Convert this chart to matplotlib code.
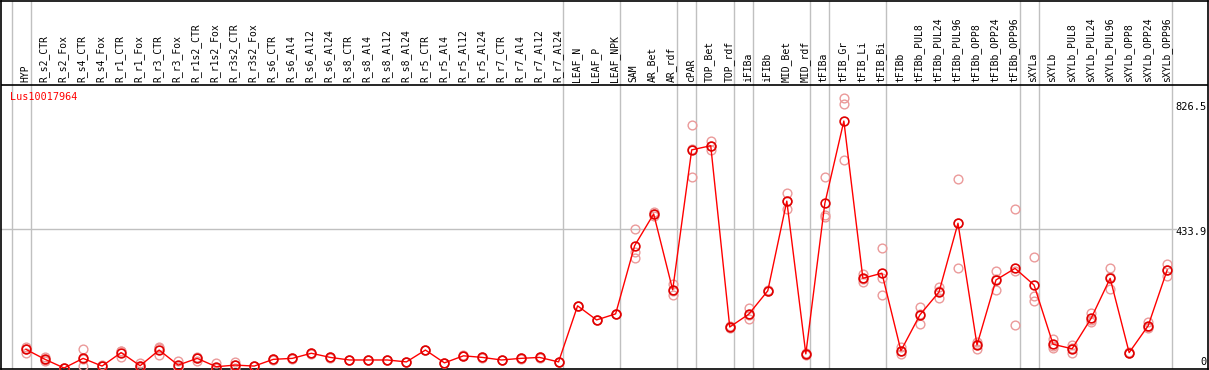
# -*- coding: utf-8 -*-
"""Expression profile of Lus10017964 across tissues / treatments."""
import matplotlib

matplotlib.use("Agg")
import matplotlib.pyplot as plt

samples = [
    "HYP", "R_s2_CTR", "R_s2_Fox", "R_s4_CTR", "R_s4_Fox", "R_r1_CTR", "R_r1_Fox",
    "R_r3_CTR", "R_r3_Fox", "R_r1s2_CTR", "R_r1s2_Fox", "R_r3s2_CTR", "R_r3s2_Fox",
    "R_s6_CTR", "R_s6_Al4", "R_s6_Al12", "R_s6_Al24", "R_s8_CTR", "R_s8_Al4",
    "R_s8_Al12", "R_s8_Al24", "R_r5_CTR", "R_r5_Al4", "R_r5_Al12", "R_r5_Al24",
    "R_r7_CTR", "R_r7_Al4", "R_r7_Al12", "R_r7_Al24", "LEAF_N", "LEAF_P", "LEAF_NPK",
    "SAM", "AR_Bet", "AR_rdf", "cPAR", "TOP_Bet", "TOP_rdf", "iFIBa", "iFIBb",
    "MID_Bet", "MID_rdf", "tFIBa", "tFIB_Gr", "tFIB_Li", "tFIB_Bi", "tFIBb",
    "tFIBb_PUL8", "tFIBb_PUL24", "tFIBb_PUL96", "tFIBb_OPP8", "tFIBb_OPP24",
    "tFIBb_OPP96", "sXYLa", "sXYLb", "sXYLb_PUL8", "sXYLb_PUL24", "sXYLb_PUL96",
    "sXYLb_OPP8", "sXYLb_OPP24", "sXYLb_OPP96",
]

mean_expr = [
    58, 27, 0, 30, 6, 48, 7, 56, 9, 30, 4, 9, 6,
    27, 30, 46, 33, 25, 25, 25, 19, 56, 16, 38, 33, 25, 30, 33, 19,
    194, 150, 169,
    382, 481, 244, 681, 694, 128, 168, 241, 521, 44, 514, 771, 280, 296,
    54, 166, 237, 452, 72, 275, 311,
    259, 74, 60, 155, 280, 48, 132, 306,
]

replicates = [
    [66, 48, 60], [33, 25, 23], [0, 0, 0], [58, 6, 28], [8, 5, 6], [54, 35, 52],
    [15, 5, 2], [66, 41, 62], [23, 3, 3], [35, 23, 32], [15, 0, 0], [20, 0, 8],
    [7, 5, 6], [28, 26, 27], [31, 29, 30], [47, 45, 46], [34, 32, 33], [26, 24, 25],
    [26, 24, 25], [26, 24, 25], [20, 18, 19], [57, 55, 56], [17, 15, 16], [39, 37, 38],
    [34, 32, 33], [26, 24, 25], [31, 29, 30], [34, 32, 33], [20, 18, 19],
    [195, 193, 194], [151, 149, 150], [170, 168, 169],
    [434, 361, 343], [488, 481, 474], [262, 228, 240], [759, 597, 685], [709, 681, 692],
    [131, 125, 128], [186, 152, 165], [244, 239, 241], [547, 496, 521], [47, 40, 44],
    [595, 478, 470], [842, 823, 649], [293, 269, 278], [374, 282, 228],
    [65, 44, 53], [190, 136, 170], [254, 218, 240], [590, 311, 454], [82, 58, 75],
    [303, 244, 277], [496, 134, 303],
    [346, 225, 209], [90, 63, 69], [72, 46, 63], [171, 145, 150], [311, 246, 283],
    [50, 46, 48], [145, 124, 127], [324, 287, 307],
]

group_breaks = [-1, 0, 28, 31, 34, 35, 37, 38, 41, 42, 45, 52, 53, 60]
scale_ticks = [0, 433.9, 826.5]
gene = "Lus10017964"

MONO = "DejaVu Sans Mono"
GRID = "#c0c0c0"

fig = plt.figure(figsize=(12.09, 3.70), dpi=100)
ax = fig.add_axes([0.5 / 1209, 1.5 / 370, 1207.5 / 1209, 368 / 370])
ax.set_xlim(-1.341, 62.145)
ax.set_ylim(-1.6, 1147.4)
ax.set_xticks([])
ax.set_yticks([])
for sp in ax.spines.values():
    sp.set_color("black")
    sp.set_linewidth(1.2)

label_base = 883.5  # line under the sample names

# group separators
for b in group_breaks:
    ax.axvline(b + 0.24, color=GRID, lw=1, zorder=1)
ax.axhline(433.9, xmin=0, xmax=1176 / 1208, color=GRID, lw=1, zorder=1)
ax.axhline(label_base, color="black", lw=1.2, zorder=2)

# sample names
for i, name in enumerate(samples):
    ax.text(i - 0.05, label_base + 10, name, rotation=90, ha="center", va="bottom",
            fontsize=7, family=MONO, color="black")

# replicates
xs = list(range(len(samples)))
for i, reps in enumerate(replicates):
    ax.plot([i] * len(reps), reps, linestyle="none", marker="o", ms=6.3,
            mfc="none", mec="#eb9a9a", mew=1.0, zorder=3)

# mean line
ax.plot(xs, mean_expr, color="#ff0000", lw=1.0, zorder=4)
ax.plot(xs, mean_expr, linestyle="none", marker="o", ms=6.3, mfc="none",
        mec="#e00000", mew=1.2, zorder=5)

# right-hand scale
offsets = {0: 4.3, 433.9: -2.0, 826.5: -2.5}
for t in scale_ticks:
    txt = "0" if t == 0 else f"{t:.1f}"
    ax.annotate(txt, xy=(1.0, t), xycoords=("axes fraction", "data"),
                xytext=(-1.0, offsets[t]), textcoords="offset points",
                ha="right", va="center", fontsize=7.5, family=MONO, color="black")

ax.annotate(gene, xy=(0.0, label_base), xycoords=("axes fraction", "data"),
            xytext=(7.0, -8.9), textcoords="offset points", ha="left", va="center",
            fontsize=7.3, family=MONO, color="#ff0000")

fig.savefig("out.png", dpi=100)
